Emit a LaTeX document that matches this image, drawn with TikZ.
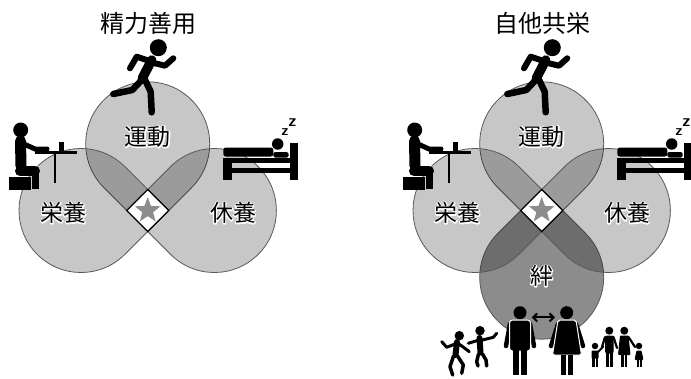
\documentclass[tikz,border=0pt]{standalone}
\usepackage{fontspec}
\setmainfont{Noto Sans CJK JP}
\usepackage{tikz}
\usetikzlibrary{arrows.meta, shapes.geometric}

% label with a thin white rim: a stroked white copy under the black one
\newcommand\rimlabel[3]{%
  \node[petal text, white] at (#2) {\special{pdf:literal direct 2 Tr 2.2 w 1 j}#3\special{pdf:literal direct 0 Tr}};
  \node[petal text] (#1) at (#2) {#3};}

\begin{document}
\begin{tikzpicture}[x=1pt, y=-1pt,
  petal/.style={draw=black!65, line width=0.8pt, fill=black, fill opacity=0.22},
  bond petal/.style={petal, fill opacity=0.45},
  petal text/.style={font=\fontsize{23}{23}\selectfont, inner sep=0pt},
  title/.style={font=\fontsize{24}{24}\selectfont, inner sep=0pt},
  limb/.style={line width=5.5pt, line cap=round, line join=round},
  headdot/.style={circle, fill=black, inner sep=0pt, minimum size=#1},
  zzz/.style={font=\sffamily\bfseries\fontsize{#1}{#1}\selectfont, inner sep=0pt}]
  \useasboundingbox (0,0) rectangle (691,378);
  \def\r{62} \def\h{21}

  % 絆 petal, below the others
  \coordinate (cbond) at (541.7,210.5);
  \draw[bond petal] (cbond) ++(270:\h) -- ++(45:\r) arc[start angle=-45, end angle=225, radius=\r] -- cycle;

  \foreach \dx/\ttl/\k in {0/精力善用/a, 394/自他共栄/b}{
  \begin{scope}[shift={(\dx,0)}]
    \coordinate (c\k) at (147.7,210.5);
    % three petals, tips meeting round the centre
    \foreach \a in {270,0,180}
      \draw[petal] (c\k) ++(\a+180:\h) -- ++(\a-45:\r) arc[start angle=\a-135, end angle=\a+135, radius=\r] -- cycle;
    \draw[fill=white, line width=1.2pt] (c\k) ++(0,-\h) -- ++(\h,\h) -- ++(-\h,\h) -- ++(-\h,-\h) -- cycle;
    \node[star, star points=5, star point ratio=2.4, fill=black!45, inner sep=0pt, minimum size=27pt] (star\k) at (c\k) {};

    \node[title] (title\k) at (148,23) {\ttl};
    \rimlabel{run\k}{147.7,137}{運動}
    \rimlabel{food\k}{63.3,213}{栄養}
    \rimlabel{rest\k}{233,213}{休養}

    % runner
    \node[headdot=17pt] (runhead\k) at (158.3,47.7) {};
    \draw[limb, line width=9.5pt] (151.7,60) -- (142.3,78.3);
    \draw[limb, line width=6pt] (146.7,60) -- (136.7,56.7) -- (130,68.3);
    \draw[limb, line width=6pt] (155,63.3) -- (165,65.7) -- (173.3,58.3);
    \draw[limb, line width=6.5pt] (144.3,78.3) -- (150.7,91.7) -- (151.7,112.3);
    \draw[limb, line width=6.5pt] (141.7,80) -- (132.3,90) -- (113.3,94);

    % person at the table
    \node[headdot=15pt] (deskhead\k) at (20.7,130) {};
    \draw[limb, line width=11pt] (20.5,141) -- (21,166);
    \draw[limb, line width=5pt] (24,144) -- (35,149) -- (47,149);
    \draw[limb, line width=10pt] (20,171) -- (35,171);
    \draw[line width=7pt] (35.5,170) -- (35.5,189);
    \fill (9.3,176.7) rectangle (31,190);
    \draw[line width=3pt] (35,152) -- (77,152);
    \draw[line width=1.8pt] (55,152) -- (55,183.3);
    \fill (59.3,142.3) rectangle (64.3,150.5);

    % bed
    \fill[rounded corners=2.5pt] (223.3,147.5) rectangle (273.3,156.5);
    \node[headdot=11.5pt] (bedhead\k) at (277.7,144) {};
    \fill[rounded corners=1.5pt] (273.3,152) rectangle (288.5,157.5);
    \fill (290,143.3) rectangle (298.3,180);
    \fill (223.3,158) rectangle (290,162.7);
    \fill (223.3,168.3) rectangle (298.3,173.3);
    \fill (223.3,158) rectangle (231.7,180);
    \node[zzz=15] (zsmall\k) at (285,132.5) {z};
    \node[zzz=17] (zbig\k) at (292.5,122.5) {z};
  \end{scope}}

  \rimlabel{bond}{541.7,276}{絆}

  % couple
  \node[headdot=13pt] (manhead) at (520,312.7) {};
  \draw[limb, line width=4.5pt] (510,324) -- (506,346);
  \draw[limb, line width=4.5pt] (530,324) -- (534,346);
  \draw[fill=black, draw=white, line width=1pt, rounded corners=3pt] (509.5,320) rectangle (530.5,351);
  \fill (513.3,350) rectangle (519.3,375);
  \fill (520.7,350) rectangle (526.7,375);
  \node[headdot=13pt] (womanhead) at (566.7,312.7) {};
  \draw[limb, line width=4.5pt] (558,324) -- (551,346);
  \draw[limb, line width=4.5pt] (576,324) -- (583,346);
  \draw[fill=black, draw=white, line width=1pt, rounded corners=2pt] (558,320) -- (576,320) -- (581.5,355) -- (552.5,355) -- cycle;
  \fill (560.5,354.5) rectangle (565.5,375);
  \fill (568,354.5) rectangle (573,375);
  \draw[{Straight Barb[length=4pt,width=8pt]}-{Straight Barb[length=4pt,width=8pt]}, line width=2pt, shorten <=7pt, shorten >=7pt] (manhead.south east) -- (womanhead.south west);

  % dancing children
  \node[headdot=9.5pt] (kidahead) at (459.3,335.7) {};
  \draw[limb, line width=6pt] (457,342) -- (455.5,355);
  \draw[limb, line width=3pt] (455,344) -- (446.7,347.3) -- (441.7,341.7);
  \draw[limb, line width=3pt] (459,344) -- (469.3,351.7);
  \draw[limb, line width=3.5pt] (453.5,356) -- (450,366.7) -- (452.7,375);
  \draw[limb, line width=3.5pt] (457.5,356) -- (463.3,365) -- (461.7,373.3);
  \node[headdot=9.5pt] (kidbhead) at (480,330.7) {};
  \draw[limb, line width=6pt] (479.5,338) -- (480.5,352.5);
  \draw[limb, line width=3pt] (477.5,340.5) -- (468.3,343.3);
  \draw[limb, line width=3pt] (482.5,340) -- (493.3,337.3) -- (496.7,333.3);
  \draw[limb, line width=3.5pt] (478.5,354) -- (476.7,361.7) -- (478,366);
  \draw[limb, line width=3.5pt] (482.5,354) -- (486,360) -- (486.7,366);

  % family holding hands
  \node[headdot=6.5pt] (sonhead) at (595,346) {};
  \fill[rounded corners=1pt] (591.5,350.5) rectangle (598.5,358.5);
  \fill (592,358) rectangle (594.5,366.7);
  \fill (595.5,358) rectangle (598,366.7);
  \draw[limb, line width=2pt] (598,352) -- (603.3,346.5);
  \node[headdot=8pt] (fatherhead) at (609.3,330.7) {};
  \fill[rounded corners=1.5pt] (605,335.5) rectangle (613.5,353.5);
  \fill (605.5,353) rectangle (608.8,366.7);
  \fill (609.8,353) rectangle (613,366.7);
  \draw[limb, line width=2.2pt] (605,337) -- (602,347);
  \draw[limb, line width=2.2pt] (613.5,337) -- (617,348);
  \node[headdot=8pt] (motherhead) at (624.3,330.7) {};
  \fill[rounded corners=1pt] (620,335.5) -- (628.5,335.5) -- (630.5,355) -- (618,355) -- cycle;
  \fill (621.3,354) rectangle (623.8,366.7);
  \fill (624.8,354) rectangle (627.3,366.7);
  \draw[limb, line width=2.2pt] (628.5,337) -- (635,347);
  \node[headdot=6.5pt] (daughterhead) at (639,346) {};
  \fill[rounded corners=1pt] (636.5,350.5) -- (641.5,350.5) -- (643.5,360) -- (634.5,360) -- cycle;
  \fill (637,359) rectangle (638.8,366.7);
  \fill (639.7,359) rectangle (641.5,366.7);
\end{tikzpicture}
\end{document}
